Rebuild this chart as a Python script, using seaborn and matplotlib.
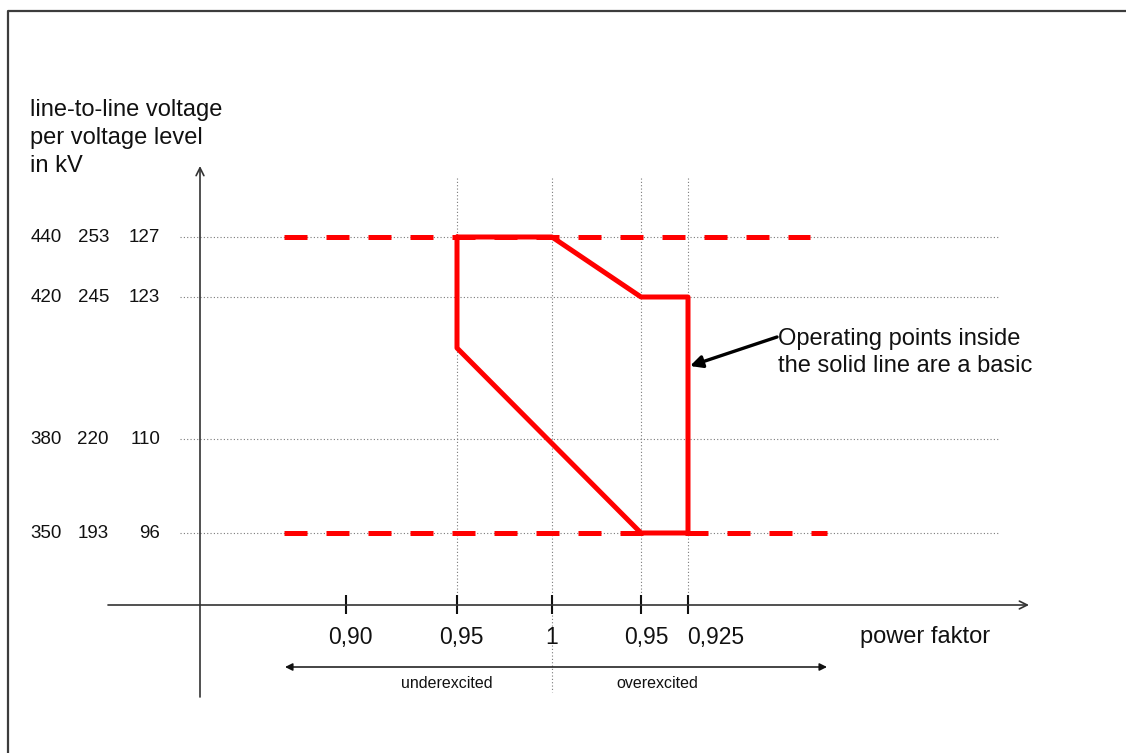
import matplotlib
matplotlib.use("Agg")
import matplotlib.pyplot as plt
import seaborn as sns

# ========== DATA (diagram units, y grows downward) ==========
pf_labels = ["0,90", "0,95", "1", "0,95", "0,925"]
pf_x = [346, 457, 552, 641, 688]

volt_rows = [["440", "253", "127"],
             ["420", "245", "123"],
             ["380", "220", "110"],
             ["350", "193", "96"]]
volt_y = [237, 297, 439, 533]

# solid boundary of the basic operating range
limit_x = [457, 552, 641, 688, 688, 641, 457, 457]
limit_y = [237, 237, 297, 297, 533, 533, 348, 237]

# dashed voltage limits (start, end, level)
dash_start = [284, 284, 685]
dash_end = [810, 643, 827]
dash_level = [237, 533, 533]

# ========== STYLE ==========
sns.set_style("white")
plt.rcParams['font.family'] = ['Liberation Sans', 'DejaVu Sans']
RED = '#ff0000'
TXT = '#111111'
GRID = '#7a7a7a'
BIG = 17

fig = plt.figure(figsize=(11.26, 7.53), dpi=100)
ax = fig.add_axes([0, 0, 1, 1])
ax.set_xlim(0, 1126)
ax.set_ylim(753, 0)
ax.axis('off')

# frame of the picture (left and top visible)
ax.plot([8, 8, 1126], [753, 11, 11], color='#3c3c3c', lw=1.6, solid_capstyle='butt')

# dotted helper grid
for y in volt_y:
    ax.plot([180, 1000], [y, y], color=GRID, lw=0.8, dashes=(1, 2))
for x in pf_x[1:]:
    ax.plot([x, x], [178, 605], color=GRID, lw=0.8, dashes=(1, 2))
ax.plot([552, 552], [605, 692], color=GRID, lw=0.8, dashes=(1, 2))

# axes arrows
ax.annotate('', xy=(200, 166), xytext=(200, 697),
            arrowprops=dict(arrowstyle='->', color='#333333', lw=1.2,
                            mutation_scale=14, shrinkA=0, shrinkB=0))
ax.annotate('', xy=(1029, 605), xytext=(108, 605),
            arrowprops=dict(arrowstyle='->', color='#333333', lw=1.2,
                            mutation_scale=14, shrinkA=0, shrinkB=0))
ax.vlines(pf_x, 595, 614, color='#111111', lw=1.5)

# dashed limits
for x0, x1, y in zip(dash_start, dash_end, dash_level):
    ax.plot([x0, x1], [y, y], color=RED, lw=3.6, dashes=(4.6, 3.8),
            dash_capstyle='butt')

# solid boundary
sns.lineplot(x=limit_x, y=limit_y, sort=False, estimator=None,
             color=RED, lw=3.6, ax=ax)

# y axis labels
ax.text(30, 116, "line-to-line voltage", fontsize=BIG, color=TXT, va='baseline')
ax.text(30, 144, "per voltage level", fontsize=BIG, color=TXT, va='baseline')
ax.text(30, 172, "in kV", fontsize=BIG, color=TXT, va='baseline')
col_right = [62, 109, 160]
for row, y in zip(volt_rows, volt_y):
    for val, xr in zip(row, col_right):
        ax.text(xr, y, val, fontsize=13.5, color=TXT, ha='right', va='center')

# x axis labels
pf_label_x = [350, 461, 552, 646, 716]
for lab, x in zip(pf_labels, pf_label_x):
    ax.text(x, 644, lab, fontsize=16.5, color=TXT, ha='center', va='baseline')
ax.text(860, 643, "power faktor", fontsize=BIG, color=TXT, va='baseline')

# under/over-excited arrow
ax.annotate('', xy=(285, 667), xytext=(827, 667),
            arrowprops=dict(arrowstyle='<|-|>', color='#111111', lw=1.1,
                            mutation_scale=11, shrinkA=0, shrinkB=0))
ax.text(447, 683, "underexcited", fontsize=11.5, color=TXT, ha='center', va='center')
ax.text(657, 683, "overexcited", fontsize=11.5, color=TXT, ha='center', va='center')

# annotation
ax.annotate('', xy=(690, 366), xytext=(777, 337),
            arrowprops=dict(arrowstyle='-|>', color='black', lw=2.4,
                            mutation_scale=18, shrinkA=0, shrinkB=0))
ax.text(778, 345, "Operating points inside", fontsize=BIG, color=TXT, va='baseline')
ax.text(778, 372, "the solid line are a basic", fontsize=BIG, color=TXT, va='baseline')

plt.savefig('out.png', dpi=100)
plt.close()
